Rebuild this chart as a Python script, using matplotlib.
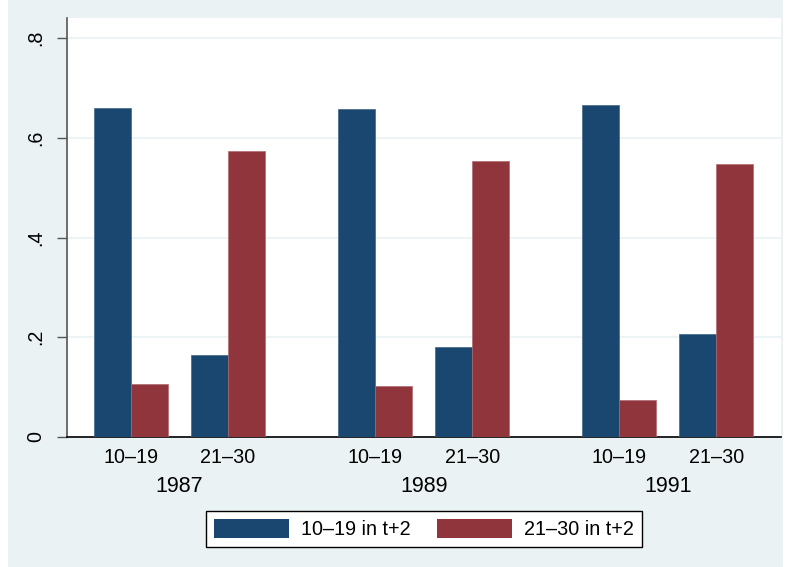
import matplotlib
matplotlib.use("Agg")
import matplotlib.pyplot as plt
from matplotlib.patches import Rectangle, Patch
from matplotlib.transforms import blended_transform_factory

plt.rcParams['font.family'] = ['Liberation Sans', 'DejaVu Sans']

years = ["1987", "1989", "1991"]
groups = ["10\u201319", "21\u201330"]
series_names = ["10\u201319 in t+2", "21\u201330 in t+2"]
# share moving to each bracket two years later, by year and starting bracket
share_10_19 = [[0.660, 0.164], [0.658, 0.180], [0.666, 0.207]]
share_21_30 = [[0.106, 0.573], [0.102, 0.553], [0.074, 0.548]]
yticks = [0, 0.2, 0.4, 0.6, 0.8]
yticklabels = ["0", ".2", ".4", ".6", ".8"]

blue = "#1A476F"
red = "#90353B"
bg = "#EAF2F3"
fs = 14.2

fig = plt.figure(figsize=(7.9, 5.67), dpi=100, facecolor="white")
fig.patches.append(Rectangle((8 / 790, 0), 775 / 790, 1, transform=fig.transFigure,
                             facecolor=bg, edgecolor="none", zorder=-10))

ax = fig.add_axes([67 / 790, 130 / 567, 714 / 790, 419 / 567])
ax.set_facecolor("white")

bw = 1.0
year_step = 6.6
sub_step = 2.62
first = 1.73
centers = []
for i in range(len(years)):
    for j in range(len(groups)):
        c = first + i * year_step + j * sub_step
        centers.append(c)
        ax.bar(c - bw / 2, share_10_19[i][j], width=bw, color=blue, edgecolor="#3d6688",
               linewidth=0.5, zorder=3)
        ax.bar(c + bw / 2, share_21_30[i][j], width=bw, color=red, edgecolor="#b06a70",
               linewidth=0.5, zorder=3)

ax.set_xlim(0, 714 / 37)
ax.set_ylim(0, 0.8405)
ax.set_yticks(yticks)
ax.set_yticklabels(yticklabels, rotation=90, va="center", fontsize=fs)
ax.yaxis.grid(True, color=bg, linewidth=1.2, zorder=0)
ax.set_xticks(centers)
ax.set_xticklabels(groups * len(years), fontsize=fs)
ax.tick_params(axis="x", length=0, pad=8)
ax.tick_params(axis="y", length=7, width=1, color="#555555", pad=9)

for s in ["top", "right"]:
    ax.spines[s].set_visible(False)
ax.spines["left"].set_color("#555555")
ax.spines["left"].set_linewidth(1.2)
ax.spines["bottom"].set_color("black")
ax.spines["bottom"].set_linewidth(1.2)

trans = blended_transform_factory(ax.transData, ax.transAxes)
for i, y in enumerate(years):
    xc = first + i * year_step + sub_step / 2
    ax.annotate(y, xy=(xc, 0), xycoords=trans, xytext=(0, -50), textcoords="offset pixels",
                ha="center", va="center", fontsize=15.5)

handles = [Patch(facecolor=blue, edgecolor="none"), Patch(facecolor=red, edgecolor="none")]
leg = fig.legend(handles, series_names, loc="center", ncol=2,
                 bbox_to_anchor=(424 / 790, 1 - 529 / 567), fontsize=fs,
                 handlelength=3.8, handleheight=1.15, columnspacing=1.3, handletextpad=0.65,
                 fancybox=False, edgecolor="black", framealpha=1, borderpad=0.4)
leg.get_frame().set_linewidth(1.0)

fig.savefig("out.png", dpi=100, facecolor=fig.get_facecolor())
